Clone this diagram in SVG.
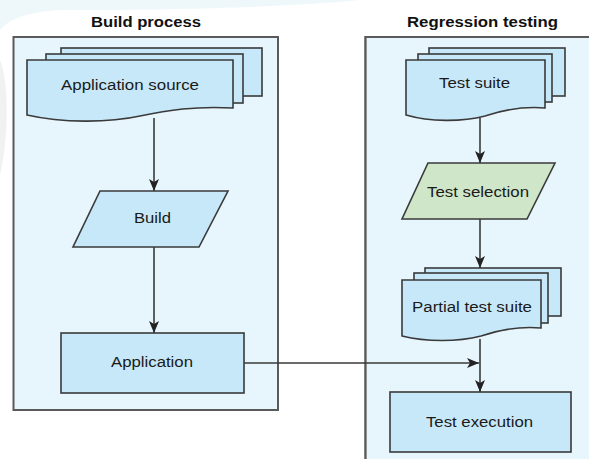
<svg xmlns="http://www.w3.org/2000/svg" width="589" height="459" viewBox="0 0 589 459">
<defs>
<style>
.cont{fill:#e7f5fc;stroke:#5a5a5a;stroke-width:2}
.node{fill:#c7e8f8;stroke:#3a3a3a;stroke-width:1.6}
.green{fill:#cfe6c9;stroke:#3a3a3a;stroke-width:1.6}
.lbl{font-family:"Liberation Sans",Arial,sans-serif;font-size:14px;fill:#1a1a1a;text-anchor:middle}
.title{font-family:"Liberation Sans",Arial,sans-serif;font-size:14px;font-weight:bold;fill:#111;text-anchor:middle}
.conn{fill:none;stroke:#3a3a3a;stroke-width:1.6}
</style>
<marker id="arr" viewBox="0 0 12 10" refX="12" refY="5" markerWidth="12" markerHeight="10" markerUnits="userSpaceOnUse" orient="auto">
<path d="M0,0 L12,5 L0,10 L3,5 Z" fill="#222"/>
</marker>
</defs>
<rect width="589" height="459" fill="#ffffff"/>
<path d="M0,0 H360 C300,6 200,10 60,10 C30,12 10,18 0,30 Z" fill="#eef8fb"/>
<path d="M0,60 C8,80 10,130 0,175 Z" fill="#f1f1f1"/>

<g id="build-process">
<rect class="cont" x="13.5" y="37" width="264.5" height="373"/>
<text class="title" x="146" y="27" textLength="110" lengthAdjust="spacingAndGlyphs">Build process</text>
</g>
<g id="regression-testing">
<path class="cont" d="M600,37 H365.5 V470"/>
<rect x="366.5" y="38" width="230" height="430" fill="#e7f5fc"/>
<path d="M600,37 H365.5 V470" fill="none" stroke="#5a5a5a" stroke-width="2"/>
<text class="title" x="482.5" y="27" textLength="151" lengthAdjust="spacingAndGlyphs">Regression testing</text>
</g>

<g id="application-source">
<rect class="node" x="61" y="48" width="201" height="48"/>
<rect class="node" x="46" y="54" width="197" height="49"/>
<path class="node" d="M27,60 H233 V108 C195,106 168,110 140,116 C108,123 62,123 27,115 Z"/>
<text class="lbl" x="130" y="90" textLength="138" lengthAdjust="spacingAndGlyphs">Application source</text>
</g>

<g id="build">
<path class="node" d="M100,191 H228 L199,247 H73 Z"/>
<text class="lbl" x="152.5" y="223" textLength="37" lengthAdjust="spacingAndGlyphs">Build</text>
</g>

<g id="application">
<rect class="node" x="61" y="333" width="183" height="60"/>
<text class="lbl" x="152" y="367" textLength="82" lengthAdjust="spacingAndGlyphs">Application</text>
</g>

<g id="test-suite">
<rect class="node" x="429" y="48" width="136" height="48"/>
<rect class="node" x="418" y="54" width="134" height="48"/>
<path class="node" d="M406,60 H545 V108 C520,106 500,111 485,116 C462,122 430,122 406,115 Z"/>
<text class="lbl" x="474.5" y="88" textLength="71" lengthAdjust="spacingAndGlyphs">Test suite</text>
</g>

<g id="test-selection">
<path class="green" d="M428,163 H555 L527,219 H402 Z"/>
<text class="lbl" x="478" y="197" textLength="102" lengthAdjust="spacingAndGlyphs">Test selection</text>
</g>

<g id="partial-test-suite">
<rect class="node" x="425" y="268" width="136" height="48"/>
<rect class="node" x="414" y="273" width="134" height="50"/>
<path class="node" d="M402,280 H541 V328 C516,326 497,331 481,336 C458,342 426,342 402,336 Z"/>
<text class="lbl" x="472" y="312" textLength="120" lengthAdjust="spacingAndGlyphs">Partial test suite</text>
</g>

<g id="test-execution">
<rect class="node" x="390" y="392" width="181" height="60"/>
<text class="lbl" x="479.5" y="427" textLength="107" lengthAdjust="spacingAndGlyphs">Test execution</text>
</g>

<g id="connectors">
<path class="conn" d="M154,118 V191" marker-end="url(#arr)"/>
<path class="conn" d="M154,247 V333" marker-end="url(#arr)"/>
<path class="conn" d="M480,118 V163" marker-end="url(#arr)"/>
<path class="conn" d="M480,219 V268" marker-end="url(#arr)"/>
<path class="conn" d="M480,339 V392" marker-end="url(#arr)"/>
<path class="conn" d="M244,363 H479" marker-end="url(#arr)"/>
</g>
</svg>
